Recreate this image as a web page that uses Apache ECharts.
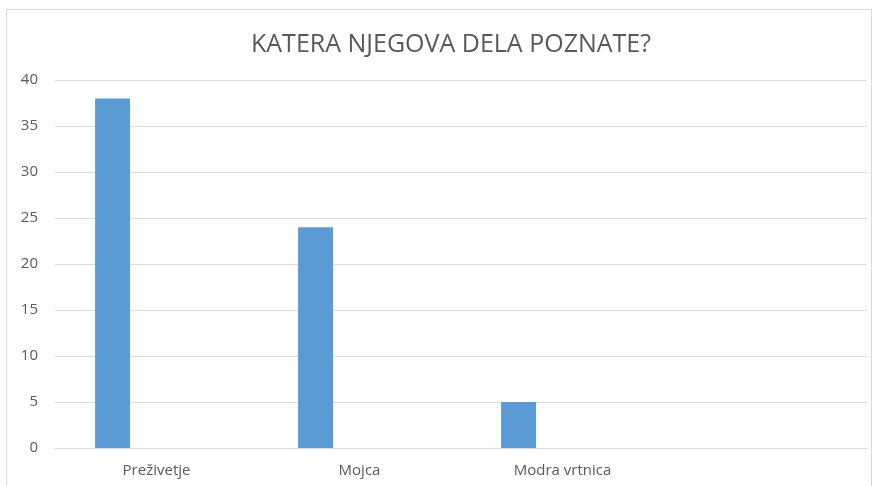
<!DOCTYPE html>
<html>
<head>
<meta charset="utf-8">
<script src="https://cdn.jsdelivr.net/npm/echarts@6/dist/echarts.min.js"></script>
<style>
  html, body { margin: 0; padding: 0; background: #fff; }
  #frame { position: absolute; left: 6px; top: 9px; width: 866px; height: 490px;
           border: 1px solid #d9d9d9; box-sizing: border-box; }
  #chart { position: absolute; left: 0; top: 0; width: 877px; height: 486px; }
</style>
</head>
<body>
<div id="frame"></div>
<div id="chart"></div>
<script>
  // Survey answers: which of his works do you know?
  const categories = ["Preživetje", "Mojca", "Modra vrtnica", ""];
  const answers = [38, 24, 5, null];
  const emptySeries = [null, null, null, null];
  const yTicks = { min: 0, max: 40, interval: 5 };

  const GREY = "#595959";
  const GRID = "#d9d9d9";
  const BLUE = "#5b9bd5";

  const chart = echarts.init(document.getElementById("chart"), null, { renderer: "canvas" });
  chart.setOption({
    animation: false,
    title: {
      text: "KATERA NJEGOVA DELA POZNATE?",
      left: 246, top: 27,
      textStyle: { color: GREY, fontSize: 25, fontWeight: "normal", fontFamily: "Open Sans, sans-serif" },
    },
    grid: { left: 55, right: 10, top: 80, bottom: 38 },
    xAxis: {
      type: "category", data: categories,
      axisLine: { lineStyle: { color: GRID } },
      axisTick: { show: false },
      axisLabel: { color: GREY, fontSize: 15, margin: 15, fontFamily: "Open Sans, sans-serif" },
    },
    yAxis: {
      type: "value", min: yTicks.min, max: yTicks.max, interval: yTicks.interval,
      axisLine: { show: false }, axisTick: { show: false },
      axisLabel: { color: GREY, fontSize: 15, margin: 17, fontFamily: "Open Sans, sans-serif" },
      splitLine: { lineStyle: { color: GRID } },
    },
    series: [
      { type: "bar", data: answers, barWidth: 35, barGap: "151%", itemStyle: { color: BLUE } },
      { type: "bar", data: emptySeries, barWidth: 35, itemStyle: { color: BLUE } },
    ],
  });
</script>
</body>
</html>
